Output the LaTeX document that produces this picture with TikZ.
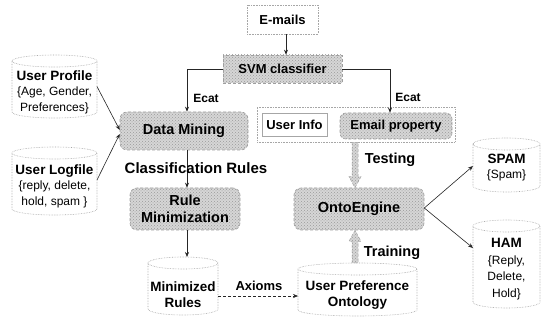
\documentclass[tikz,border=0pt]{standalone}
\usepackage{fontspec}
\setmainfont{Liberation Sans}
\usetikzlibrary{patterns,arrows.meta,calc}
\tikzset{
  hatchfill/.style={preaction={fill=gray!32},pattern=crosshatch dots,pattern color=gray!80},
  hatchbox/.style={hatchfill,draw=gray!75,densely dashed,line width=0.6pt,inner sep=0pt,align=center,font=\fontsize{13}{15}\selectfont\bfseries},
  roundbox/.style={hatchbox,rounded corners=7pt,font=\fontsize{14.5}{17}\selectfont\bfseries},
  plainbox/.style={draw=gray!70,line width=0.6pt,inner sep=0pt,align=center,font=\fontsize{13}{15}\selectfont\bfseries},
  dotbox/.style={draw=gray!70,densely dotted,line width=0.6pt,inner sep=0pt},
  cylbox/.style={draw=none,inner sep=0pt,outer sep=0pt},
  cylline/.style={draw=gray!70,densely dotted,line width=0.6pt,fill=white},
  cyltext/.style={align=center,inner sep=0pt,font=\fontsize{12}{15.5}\selectfont},
  conn/.style={draw=black!85,line width=0.6pt,-{Stealth[length=5pt,width=4pt]}},
  lbl/.style={font=\fontsize{13}{15}\selectfont\bfseries,inner sep=0pt},
  biglbl/.style={font=\fontsize{14.5}{17}\selectfont\bfseries,inner sep=0pt},
  hollowarrow/.style={hatchfill,draw=gray!70,densely dashed,line width=0.5pt}
}
\newcommand{\hd}[1]{{\fontsize{13.5}{15.5}\selectfont\bfseries #1}}
\newcommand{\cylin}[7]{%
  \node[cylbox,minimum width=#4pt,minimum height=#5pt] (#1) at (#2,-#3) {};
  \draw[cylline] ([yshift=-6pt]#1.north west) -- ([yshift=6pt]#1.south west)
     arc[start angle=180,end angle=360,x radius=#4pt/2,y radius=6pt]
     -- ([yshift=-6pt]#1.north east)
     arc[start angle=0,end angle=360,x radius=#4pt/2,y radius=6pt];
  \node[cyltext] (#1-t) at ([yshift=#6pt]#1.center) {#7};
}
\begin{document}
\begin{tikzpicture}[x=1pt,y=1pt]
\useasboundingbox[fill=white] (0,0) rectangle (544,-320);

% top
\node[dotbox,minimum width=71pt,minimum height=29pt,font=\fontsize{13}{15}\selectfont\bfseries] (emails) at (282.5,-19.5) {E-mails};
\node[hatchbox,minimum width=119pt,minimum height=28pt] (svm) at (282.5,-69) {SVM classifier};

% group with user info / email property
\node[dotbox,minimum width=198pt,minimum height=35pt] (grp) at (356,-124.5) {};
\node[plainbox,fill=white,minimum width=65pt,minimum height=23pt] (uinfo) at (294.5,-124.5) {User Info};
\node[hatchbox,rounded corners=6pt,minimum width=112pt,minimum height=26pt] (eprop) at (396,-126) {Email property};

% main process boxes
\node[roundbox,minimum width=128pt,minimum height=38pt] (dm) at (184,-131) {Data Mining};
\node[roundbox,minimum width=110pt,minimum height=42pt] (rm) at (185,-209) {Rule\\Minimization};
\node[roundbox,minimum width=130pt,minimum height=42pt] (onto) at (359,-209) {OntoEngine};

% cylinders
\cylin{uprof}{54.5}{86.5}{85}{63}{-5.8}{\hd{User Profile}\\\{Age, Gender,\\Preferences\}}
\cylin{ulog}{54.5}{181}{85}{68}{-5}{\hd{User Logfile}\\\{reply, delete,\\hold, spam \}}
\cylin{minr}{183}{286}{70}{58}{-9}{\hd{Minimized}\\[0.5pt]\hd{Rules}}
\cylin{upo}{357.5}{289.5}{119}{53}{-6}{\hd{User Preference}\\[0.5pt]\hd{Ontology}}
\cylin{spam}{506.5}{165}{67}{54}{-2.5}{\hd{SPAM}\\\{Spam\}}
\cylin{ham}{506.5}{264}{67}{88}{-5}{\hd{HAM}\\[1.5pt]\{Reply,\\[1pt]Delete,\\[1pt]Hold\}}

% connectors
\draw[conn] ([xshift=3.5pt]emails.south) -- ([xshift=3.5pt]svm.north);
\draw[conn] (svm.west) -| ([xshift=3pt]dm.north);
\draw[conn] (svm.east) -| ([xshift=-6pt]eprop.north);
\node[lbl,font=\fontsize{12}{14}\selectfont\bfseries] (ecat1) at (206,-98) {Ecat};
\node[lbl,font=\fontsize{12}{14}\selectfont\bfseries] (ecat2) at (408,-97) {Ecat};

\draw[conn] (uprof.east) -- ([yshift=1pt]dm.west);
\draw[conn] ([yshift=1pt]ulog.east) -- ([yshift=-3pt]dm.west);

\draw[conn] ([xshift=3pt]dm.south) -- ([xshift=3pt]dm.south |- rm.north);
\node[biglbl,font=\fontsize{15}{17}\selectfont\bfseries] (clr) at (196,-168) {Classification Rules};
\draw[conn] ([xshift=2pt]rm.south) -- ([xshift=2pt]rm.south |- minr.north);

\draw[conn,densely dashed] ([yshift=-10pt]minr.east) -- ([yshift=-10pt]minr.east -| upo.west);
\node[lbl] (ax) at (259,-286) {Axioms};

\draw[conn] ([yshift=1pt]onto.east) -- ([yshift=-1pt]spam.west);
\draw[conn] ([yshift=1pt]onto.east) -- ([yshift=16pt]ham.west);

% hollow arrows
\coordinate (tT) at ($(grp.south -| onto.north)+(-4,0)$);
\coordinate (tP) at ($(onto.north)+(-4,0)$);
\draw[hollowarrow] ($(tT)+(-3,0)$) -- ($(tP)+(-3,11)$) -- ($(tP)+(-6,11)$) -- (tP) -- ($(tP)+(6,11)$) -- ($(tP)+(3,11)$) -- ($(tT)+(3,0)$) -- cycle;
\node[biglbl] (testing) at (390,-160) {Testing};

\coordinate (rT) at ($(upo.north -| onto.south)+(-4,0)$);
\coordinate (rP) at ($(onto.south)+(-4,0)$);
\draw[hollowarrow] ($(rT)+(-3,0)$) -- ($(rP)+(-3,-11)$) -- ($(rP)+(-6,-11)$) -- (rP) -- ($(rP)+(6,-11)$) -- ($(rP)+(3,-11)$) -- ($(rT)+(3,0)$) -- cycle;
\node[biglbl] (training) at (392,-253) {Training};
\end{tikzpicture}
\end{document}
